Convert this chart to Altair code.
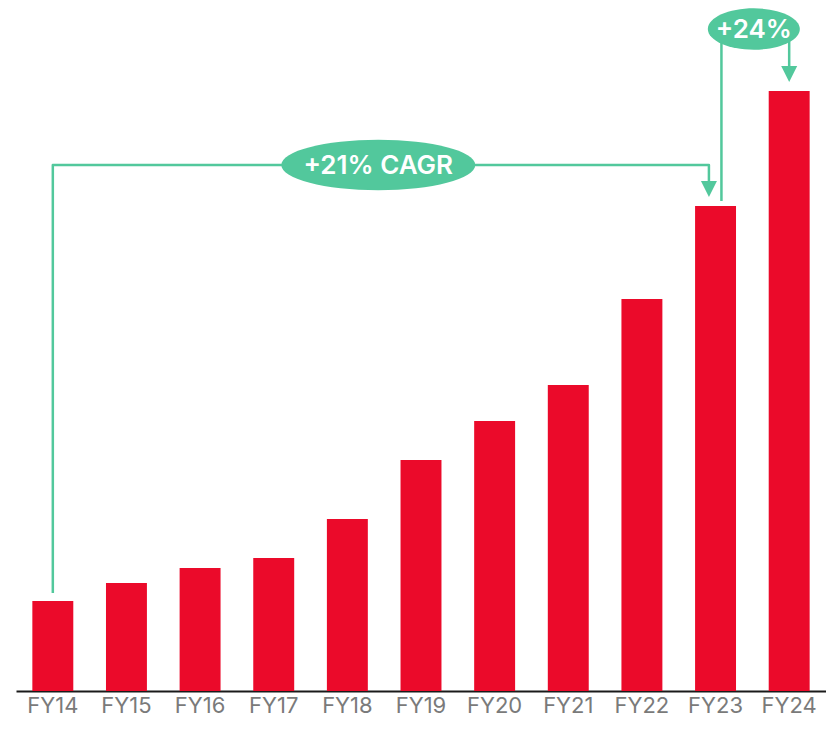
import altair as alt
import pandas as pd

years = ["FY14", "FY15", "FY16", "FY17", "FY18", "FY19", "FY20", "FY21", "FY22", "FY23", "FY24"]
values = [90, 108, 123, 133, 172, 231, 270, 306, 392, 485, 600]

# annotation paths (x in bar-index units, y in value units)
cagr_x = [0, 0, 8.91, 8.91]
cagr_y = [98, 526, 526, 505]
yoy_x = [9.08, 9.08, 10.0, 10.0]
yoy_y = [490, 662, 662, 622]
arrow_x = [8.91, 10.0]
arrow_y = [502, 617]
pill_x = [4.42, 9.52]
pill_y = [526, 662]
pill_text = ["+21% CAGR", "+24%"]

RED = "#EB0A2A"
GREEN = "#52C89C"
FONT = "Inter"

bars_df = pd.DataFrame({"year": years, "value": values})
cagr_df = pd.DataFrame({"x": cagr_x, "y": cagr_y, "o": list(range(len(cagr_x)))})
yoy_df = pd.DataFrame({"x": yoy_x, "y": yoy_y, "o": list(range(len(yoy_x)))})
arrow_df = pd.DataFrame({"x": arrow_x, "y": arrow_y})
pill_df = pd.DataFrame({"x": pill_x, "y": pill_y, "t": pill_text})

yscale = alt.Scale(domain=[0, 683], nice=False, zero=True)
xq = alt.Scale(domain=[-0.5, 10.5], nice=False, zero=False)

bars = alt.Chart(bars_df).mark_bar(color=RED).encode(
    x=alt.X("year:N", sort=years, title=None,
            scale=alt.Scale(paddingInner=0.444, paddingOuter=0.222),
            axis=alt.Axis(labelAngle=0, labelFont=FONT, labelFontSize=22,
                          labelColor="#7a7a7a", labelPadding=4, ticks=False,
                          domainColor="#1a1a1a", domainWidth=2)),
    y=alt.Y("value:Q", scale=yscale, axis=None),
)

def path_layer(df):
    return alt.Chart(df).mark_line(color=GREEN, strokeWidth=2.5, strokeJoin="round").encode(
        x=alt.X("x:Q", scale=xq, axis=None),
        y=alt.Y("y:Q", scale=yscale, axis=None),
        order="o:Q",
    )

arrows = alt.Chart(arrow_df).mark_point(
    shape="M-1,-1L1,-1L0,1Z", size=256, filled=True, color=GREEN, opacity=1, strokeWidth=0
).encode(
    x=alt.X("x:Q", scale=xq, axis=None),
    y=alt.Y("y:Q", scale=yscale, axis=None),
)

ell1 = alt.Chart(pill_df.iloc[[0]]).mark_point(
    shape="M-1,0A1,0.26,0,1,0,1,0A1,0.26,0,1,0,-1,0Z", size=194 * 194,
    filled=True, color=GREEN, opacity=1, strokeWidth=0
).encode(x=alt.X("x:Q", scale=xq, axis=None), y=alt.Y("y:Q", scale=yscale, axis=None))

ell2 = alt.Chart(pill_df.iloc[[1]]).mark_point(
    shape="M-1,0A1,0.45,0,1,0,1,0A1,0.45,0,1,0,-1,0Z", size=92 * 92,
    filled=True, color=GREEN, opacity=1, strokeWidth=0
).encode(x=alt.X("x:Q", scale=xq, axis=None), y=alt.Y("y:Q", scale=yscale, axis=None))

texts = alt.Chart(pill_df).mark_text(
    color="white", font=FONT, fontSize=26, fontWeight=600, baseline="middle", align="center", dy=1
).encode(
    x=alt.X("x:Q", scale=xq, axis=None),
    y=alt.Y("y:Q", scale=yscale, axis=None),
    text="t:N",
)

overlay = alt.layer(path_layer(cagr_df), path_layer(yoy_df), arrows, ell1, ell2, texts)

chart = alt.layer(bars, overlay).resolve_scale(x="independent").properties(
    width=810, height=683,
    background="white",
    autosize=alt.AutoSizeParams(type="none"),
    padding={"left": 8, "top": 0, "right": 0, "bottom": 32},
).configure_view(stroke="transparent", strokeWidth=0)

chart.save("out.html", embed_options={"renderer": "svg", "actions": False})
